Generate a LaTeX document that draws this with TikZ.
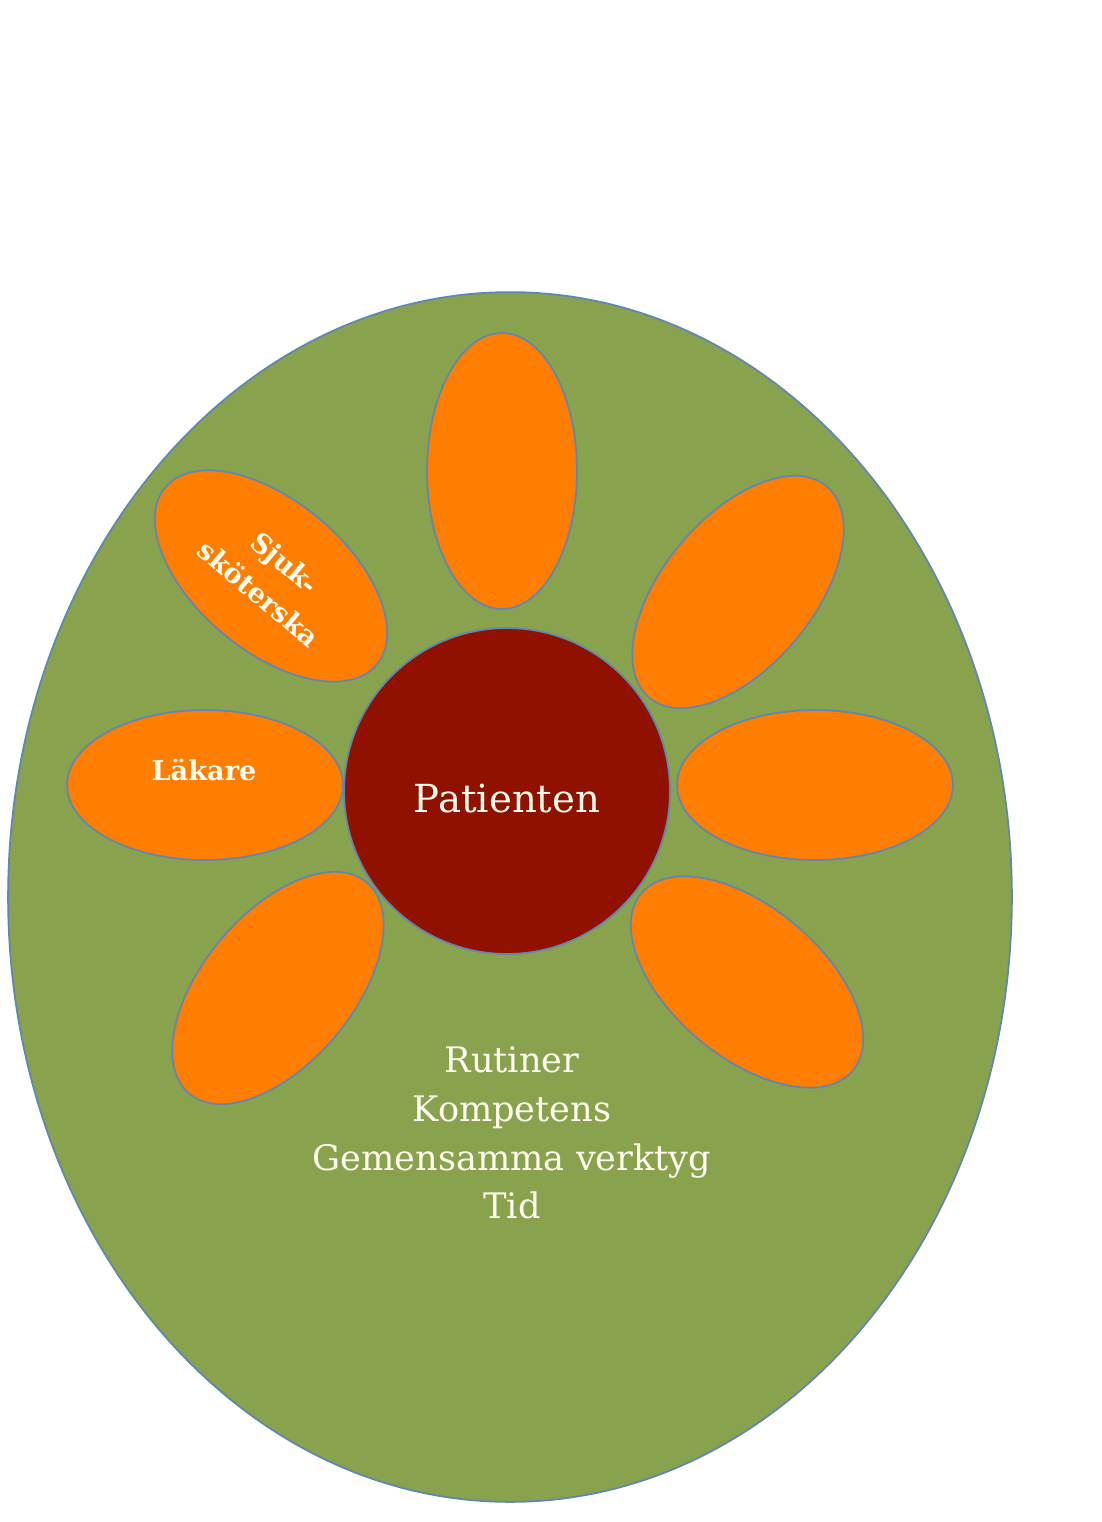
\documentclass[tikz,border=0pt]{standalone}
\usepackage{fontspec}
\setmainfont{DejaVu Serif}
\usetikzlibrary{shapes.geometric}
\definecolor{bggreen}{RGB}{137,162,78}
\definecolor{petal}{RGB}{255,125,0}
\definecolor{core}{RGB}{145,17,0}
\definecolor{rim}{RGB}{95,135,175}
\definecolor{txt}{RGB}{255,252,240}
\tikzset{
  rimline/.style={draw=rim, line width=1pt},
  petalnode/.style={rimline, fill=petal, ellipse, inner sep=0pt,
     minimum width=5.52cm, minimum height=3.0cm},
  petaltext/.style={text=txt, font=\fontsize{15.5}{23}\selectfont\bfseries, align=center, inner sep=0pt},
  bigtext/.style={text=txt, font=\fontsize{20}{27.8}\selectfont, align=center}
}
\begin{document}
\begin{tikzpicture}[x=0.02cm,y=-0.02cm]
\useasboundingbox (0,0) rectangle (1102,1522);
\node[rimline, fill=bggreen, ellipse, inner sep=0pt, minimum width=20.08cm, minimum height=24.2cm] (field) at (510,897) {};
\node[petalnode, rotate=90] (ptop) at (502,471) {};
\node[petalnode, rotate=-40] (pnurse) at (271,576) {};
\node[petaltext, rotate=-40] (nursetext) at (272,578) {Sjuk-\\sköterska};
\node[petalnode, rotate=50] (pupright) at (738,592) {};
\node[petalnode] (pdoc) at (205,785) {};
\node[petaltext, anchor=base] (doctext) at (204,780) {Läkare};
\node[petalnode] (pright) at (815,785) {};
\node[petalnode, rotate=50] (plowleft) at (278,988) {};
\node[petalnode, rotate=-40] (plowright) at (747,982) {};
\node[rimline, fill=core, circle, inner sep=0pt, minimum size=6.52cm] (patient) at (507,791) {};
\node[bigtext, font=\fontsize{22}{26}\selectfont, anchor=base] (patienttext) at (507,812) {Patienten};
\node[bigtext] (factors) at (512,1133) {Rutiner\\Kompetens\\Gemensamma verktyg\\Tid};
\end{tikzpicture}
\end{document}
